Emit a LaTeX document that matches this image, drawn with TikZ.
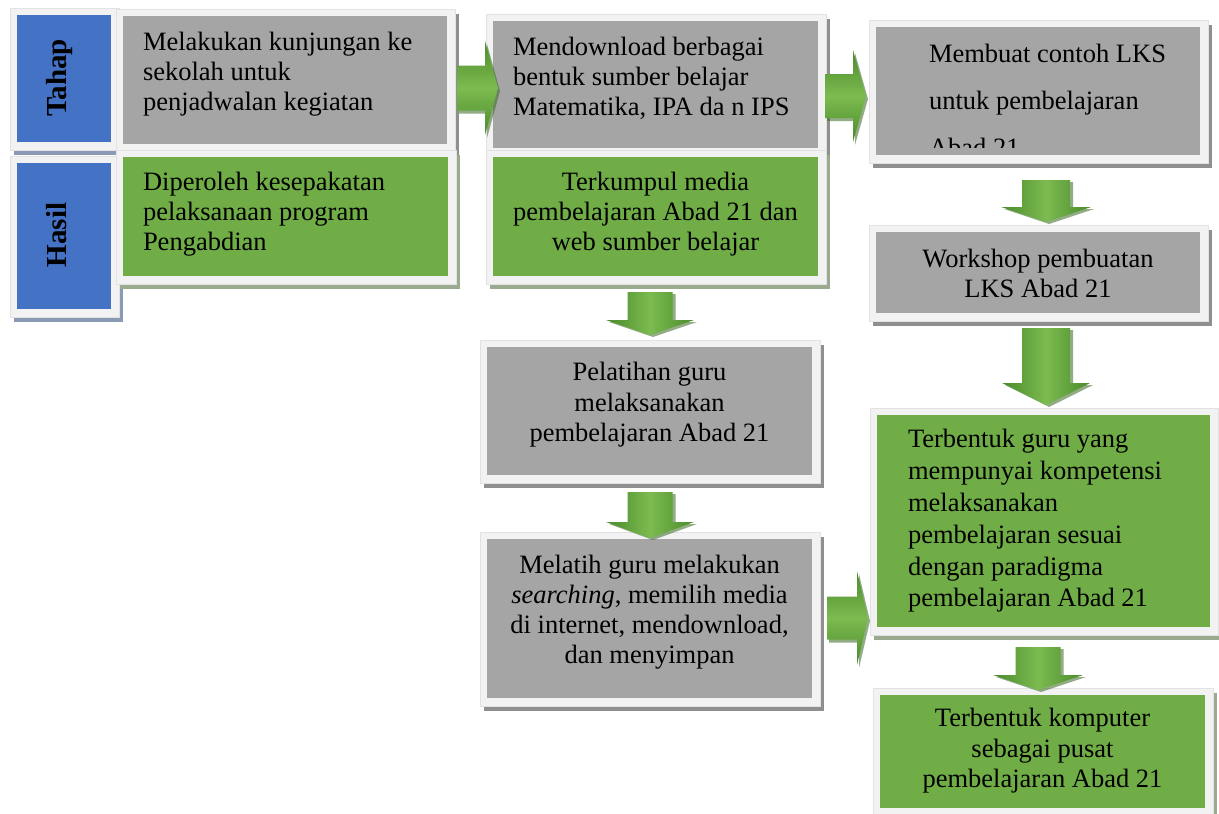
\documentclass[tikz,border=0pt]{standalone}
\usepackage{fontspec}
\setmainfont{Liberation Serif}
\usetikzlibrary{backgrounds,calc}
\definecolor{boxgray}{HTML}{A5A5A5}
\definecolor{boxgreen}{HTML}{70AD47}
\definecolor{boxblue}{HTML}{4472C4}
\definecolor{framec}{HTML}{F2F2F2}
\definecolor{frameedge}{HTML}{E2E2E2}
\definecolor{shgray}{HTML}{8F8F8F}
\definecolor{shgreen}{HTML}{9AAA8E}
\definecolor{shblue}{HTML}{8A9AB5}
\definecolor{arrdark}{HTML}{4A8A2A}
\definecolor{arrlight}{HTML}{7CBB50}
\definecolor{arrshadow}{HTML}{3A6A22}
\tikzset{
  inbox/.style={rectangle, inner sep=0pt, outer sep=0pt, anchor=north west},
  txt/.style={inner sep=0pt, outer sep=0pt, text=black, font=\fontsize{26.5}{30}\selectfont},
  txtl/.style={txt, anchor=north west, align=left},
  txtc/.style={txt, anchor=north, align=center},
  sidelab/.style={inner sep=0pt, rotate=90, anchor=base, text=black, font=\bfseries\fontsize{29}{34}\selectfont},
  rshade/.style={top color=arrdark, bottom color=arrdark, middle color=arrlight},
  dshade/.style={left color=arrdark, right color=arrdark, middle color=arrlight},
  ashadow/.style={fill=arrshadow, opacity=0.55},
}
\newcommand\mkbox[6]{\node[inbox, fill=#6, minimum width={#4-#2}, minimum height={#5-#3}] (#1) at (#2,#3) {};}
\newcommand\frm[2]{%
  \fill[#2] ([shift={(-3,-2)}]#1.north west) rectangle ([shift={(12,13)}]#1.south east);
  \fill[framec, draw=frameedge, line width=0.5pt] ([shift={(-7,-7)}]#1.north west) rectangle ([shift={(8,8)}]#1.south east);
}
\newcommand\RArr[6]{%
  \begin{scope}[shift={(2,3)}]
    \fill[ashadow] (#1,{#4-#5}) -- (#2,{#4-#5}) -- (#2,{#4-#6}) -- (#3,#4) -- (#2,{#4+#6}) -- (#2,{#4+#5}) -- (#1,{#4+#5}) -- cycle;
  \end{scope}
  \shade[rshade] (#1,{#4-#5}) -- (#2,{#4-#5}) -- (#2,{#4-#6}) -- (#3,#4) -- (#2,{#4+#6}) -- (#2,{#4+#5}) -- (#1,{#4+#5}) -- cycle;
}
\newcommand\DArr[6]{%
  \begin{scope}[shift={(3,2)}]
    \fill[ashadow] ({#4-#5},#1) -- ({#4+#5},#1) -- ({#4+#5},#2) -- ({#4+#6},#2) -- (#4,#3) -- ({#4-#6},#2) -- ({#4-#5},#2) -- cycle;
  \end{scope}
  \shade[dshade] ({#4-#5},#1) -- ({#4+#5},#1) -- ({#4+#5},#2) -- ({#4+#6},#2) -- (#4,#3) -- ({#4-#6},#2) -- ({#4-#5},#2) -- cycle;
}
\begin{document}
\begin{tikzpicture}[x=1pt,y=-1pt]
\useasboundingbox (0,0) rectangle (1219,814);
% inner boxes
\mkbox{tahapbox}{17}{15}{111}{142}{boxblue}
\mkbox{hasilbox}{17}{163}{111}{309}{boxblue}
\mkbox{b1}{123}{16}{447}{144}{boxgray}
\mkbox{b1r}{123}{157}{448}{276}{boxgreen}
\mkbox{b2}{493}{21}{818}{148}{boxgray}
\mkbox{b2r}{493}{157}{818}{276}{boxgreen}
\mkbox{b3}{876}{27}{1200}{155}{boxgray}
\mkbox{b4}{876}{232}{1200}{313}{boxgray}
\mkbox{pel}{487}{347}{812}{475}{boxgray}
\mkbox{mel}{487}{539}{812}{698}{boxgray}
\mkbox{b5}{877}{415}{1210}{627}{boxgreen}
\mkbox{b6}{880}{695}{1205}{808}{boxgreen}
% frames and shadows
\begin{pgfonlayer}{background}
  \fill[white] (0,0) rectangle (1219,814);
  \frm{tahapbox}{shblue}
  \frm{hasilbox}{shblue}
  \frm{b1}{shgray}
  \frm{b1r}{shgreen}
  \frm{b2}{shgray}
  \frm{b2r}{shgreen}
  \frm{b3}{shgray}
  \frm{b4}{shgray}
  \frm{pel}{shgray}
  \frm{mel}{shgray}
  \frm{b5}{shgreen}
  \frm{b6}{shgreen}
\end{pgfonlayer}
% side labels
\node[sidelab] (tahap) at (66,78) {Tahap};
\node[sidelab] (hasil) at (66,235) {Hasil};
% texts
\node[txtl] (t1) at (143,29) {\strut Melakukan kunjungan ke\\sekolah untuk\\penjadwalan kegiatan};
\node[txtl] (t1r) at (143,169) {\strut Diperoleh kesepakatan\\pelaksanaan program\\Pengabdian};
\node[txtl] (t2) at (513,34) {\strut Mendownload berbagai\\bentuk sumber belajar\\Matematika, IPA da n IPS};
\node[txtc] (t2r) at (655.5,169) {\strut Terkumpul media\\pembelajaran Abad 21 dan\\web sumber belajar};
\begin{scope}
  \clip (b3.north west) rectangle ([yshift=8pt]b3.south east);
  \node[txtl, font=\fontsize{26.5}{47}\selectfont] (t3) at (929,30) {\strut Membuat contoh LKS\\untuk pembelajaran\\Abad 21};
\end{scope}
\node[txtc] (t4) at (1038,246) {\strut Workshop pembuatan\\LKS Abad 21};
\node[txtc, font=\fontsize{26.5}{30.5}\selectfont] (tpel) at (649.5,359.6) {\strut Pelatihan guru\\melaksanakan\\pembelajaran Abad 21};
\node[txtc] (tmel) at (649.5,552) {\strut Melatih guru melakukan\\\textit{searching}, memilih media\\di internet, mendownload,\\dan menyimpan};
\node[txtl, font=\fontsize{26.5}{31.8}\selectfont] (t5) at (908,425.7) {\strut Terbentuk guru yang\\mempunyai kompetensi\\melaksanakan\\pembelajaran sesuai\\dengan paradigma\\pembelajaran Abad 21};
\node[txtc, font=\fontsize{26.5}{30.5}\selectfont] (t6) at (1042.5,705.6) {\strut Terbentuk komputer\\sebagai pusat\\pembelajaran Abad 21};
% block arrows
\RArr{457}{485}{498}{88}{22.5}{47}
\RArr{825}{853}{866}{96}{22}{46}
\RArr{827}{857}{868}{618}{21.5}{47}
\DArr{292}{320}{335}{650}{22.5}{44}
\DArr{492}{522}{538}{650}{22.5}{44}
\DArr{180}{207}{222}{1046}{24}{45}
\DArr{328}{383}{405}{1046}{24}{44}
\DArr{647}{675}{690}{1038}{22.5}{45}
\end{tikzpicture}
\end{document}
